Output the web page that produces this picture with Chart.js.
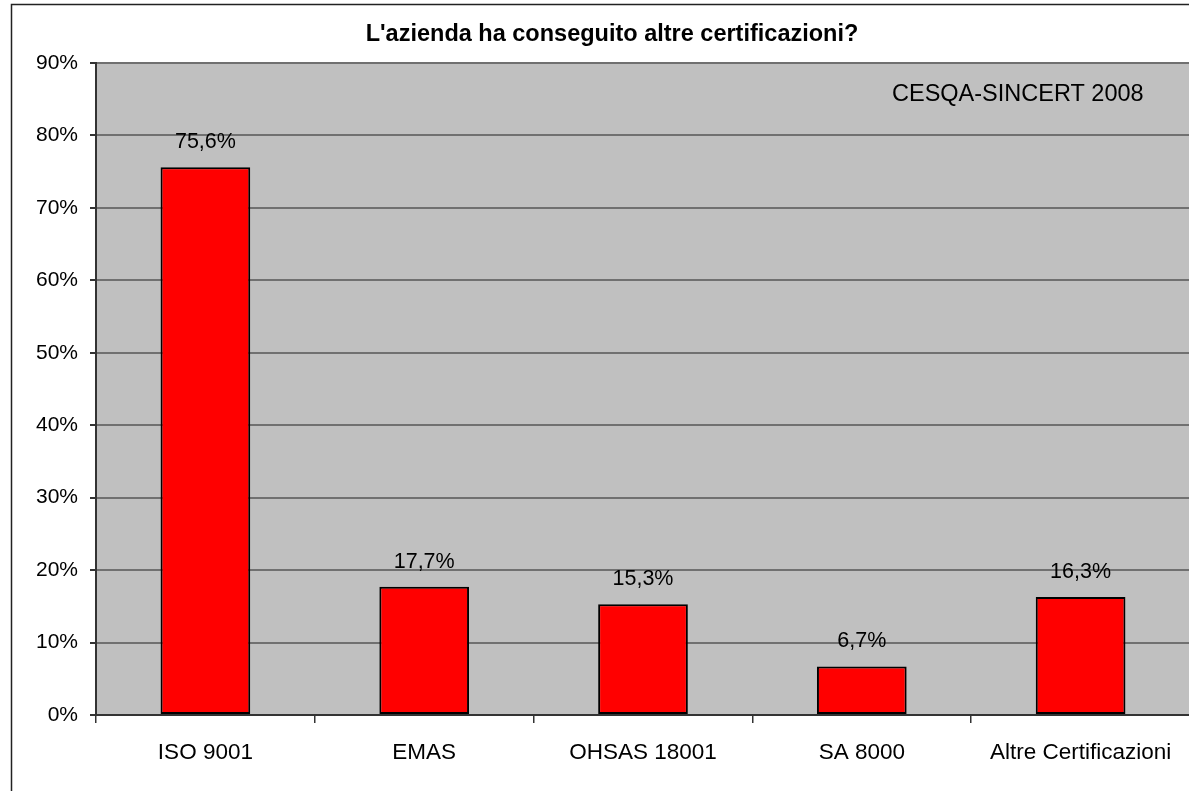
<!DOCTYPE html>
<html>
<head>
<meta charset="utf-8">
<script src="https://cdn.jsdelivr.net/npm/chart.js@4/dist/chart.umd.min.js"></script>
<style>
html,body{margin:0;padding:0;background:#fff;overflow:hidden;width:1189px;height:791px;}
#wrap{position:absolute;left:0;top:0;width:1195px;height:791px;}
</style>
</head>
<body>
<div id="wrap"><canvas id="c" width="1195" height="791"></canvas></div>
<script>
const categories = ['ISO 9001', 'EMAS', 'OHSAS 18001', 'SA 8000', 'Altre Certificazioni'];
const values = [75.6, 17.7, 15.3, 6.7, 16.3];
const yTicks = [0, 10, 20, 30, 40, 50, 60, 70, 80, 90];
const titleText = "L'azienda ha conseguito altre certificazioni?";
const noteText = 'CESQA-SINCERT 2008';

const FONT = '"Liberation Sans", Arial, sans-serif';

const frame = {
  id: 'frame',
  beforeDraw(chart) {
    const ctx = chart.ctx;
    const a = chart.chartArea;
    ctx.save();
    ctx.fillStyle = '#ffffff';
    ctx.fillRect(0, 0, chart.width, chart.height);
    ctx.strokeStyle = '#222222';
    ctx.lineWidth = 1.5;
    ctx.strokeRect(11.5, 4.5, 1300, 900);
    ctx.fillStyle = '#c0c0c0';
    ctx.fillRect(a.left, a.top, a.right - a.left, a.bottom - a.top);
    ctx.restore();
  },
  afterDraw(chart) {
    const ctx = chart.ctx;
    ctx.save();
    ctx.fillStyle = '#000';
    ctx.font = 'bold 23.5px ' + FONT;
    ctx.textAlign = 'center';
    ctx.textBaseline = 'alphabetic';
    ctx.fillText(titleText, 612, 41);
    ctx.font = '23.5px ' + FONT;
    ctx.textAlign = 'left';
    ctx.fillText(noteText, 892, 101);
    ctx.restore();
  },
  afterDatasetsDraw(chart) {
    const ctx = chart.ctx;
    const meta = chart.getDatasetMeta(0);
    ctx.save();
    ctx.fillStyle = '#000';
    ctx.font = '21.5px ' + FONT;
    ctx.textAlign = 'center';
    ctx.textBaseline = 'alphabetic';
    meta.data.forEach((bar, i) => {
      const v = chart.data.datasets[0].data[i];
      ctx.fillText(v.toFixed(1).replace('.', ',') + '%', bar.x, bar.y - 19);
    });
    ctx.restore();
  }
};

new Chart(document.getElementById('c'), {
  type: 'bar',
  data: {
    labels: categories,
    datasets: [{
      data: values,
      backgroundColor: '#ff0000',
      borderColor: '#000000',
      borderWidth: 2,
      borderSkipped: false,
      barPercentage: 0.41,
      categoryPercentage: 1.0
    }]
  },
  options: {
    responsive: false,
    animation: false,
    devicePixelRatio: 1,
    layout: { padding: { left: 0, top: 63, right: 5, bottom: 0 } },
    plugins: { legend: { display: false }, title: { display: false }, tooltip: { enabled: false } },
    scales: {
      x: {
        grid: { display: true, drawOnChartArea: false, drawTicks: true, tickLength: 8, offset: true, color: '#333', lineWidth: 1.5 },
        border: { display: true, color: '#333', width: 2 },
        ticks: { color: '#000', font: { family: FONT, size: 22.5 }, padding: 16, maxRotation: 0, autoSkip: false },
        afterFit(s) { s.height = 76; }
      },
      y: {
        min: 0, max: 90,
        afterBuildTicks(s) { s.ticks = yTicks.map(v => ({ value: v })); },
        grid: { color: '#707070', lineWidth: 2, drawTicks: true, tickLength: 6, tickColor: '#333' },
        border: { display: true, color: '#333', width: 2 },
        ticks: { color: '#000', font: { family: FONT, size: 21 }, padding: 12, callback: v => v + '%' },
        afterFit(s) { s.width = 96; }
      }
    }
  },
  plugins: [frame]
});
</script>
</body>
</html>
